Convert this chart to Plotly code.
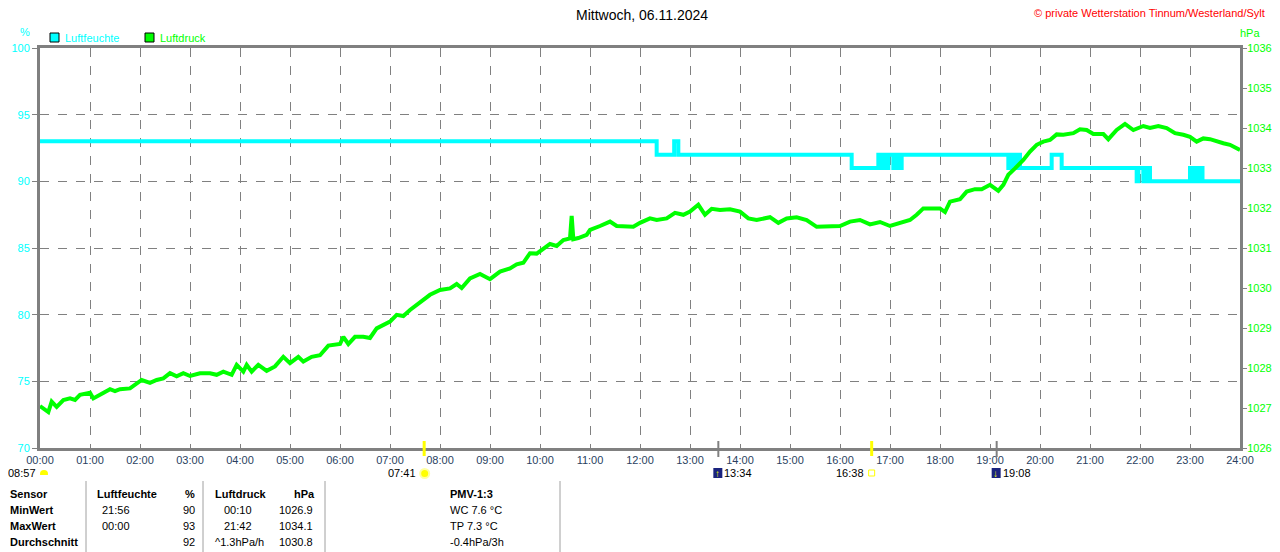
import plotly.graph_objects as go

# Seite hat 8px body-margin -> Figur um 8px kleiner, Positionen unten in Seitenpixeln
PAGE_OFF = 8
W, H = 1280 - PAGE_OFF, 552 - PAGE_OFF
ML, MR, MT, MB = 40 - PAGE_OFF, 40, 48 - PAGE_OFF, 104

CYAN = "#00FFFF"
GREEN = "#00FF00"
GRAY = "#808080"
FONT = "Liberation Sans"

HOUR_LABELS = [f"{h:02d}:00" for h in range(25)]

# Luftfeuchte in % (Stufenwerte ab Zeitpunkt)
HUM_TIMES = ["00:00", "12:20", "12:41", "12:46", "16:14", "16:46", "16:48", "16:52",
             "16:56", "16:58", "17:04", "17:06", "17:10", "17:14", "19:22", "19:25",
             "19:28", "19:32", "19:36", "19:42", "20:14", "20:26", "21:56", "21:58",
             "22:04", "22:08", "22:12", "22:18", "23:00", "23:03", "23:06", "23:09",
             "23:12", "23:15", "23:18", "24:00"]
HUM_VALUES = [93, 92, 93, 92, 91, 92, 91, 92,
              91, 92, 91, 92, 91, 92, 91, 92,
              91, 92, 91, 91, 92, 91, 90, 91,
              90, 91, 90, 90, 91, 90, 91, 90,
              91, 90, 90, 90]

# Luftdruck in hPa
PRES_TIMES = ["00:00", "00:04", "00:10", "00:14", "00:20", "00:28", "00:36", "00:42",
              "00:48", "01:00", "01:04", "01:12", "01:24", "01:30", "01:36", "01:48",
              "01:54", "02:02", "02:12", "02:20", "02:28", "02:36", "02:44", "02:52",
              "03:00", "03:12", "03:24", "03:32", "03:40", "03:50", "03:56", "04:04",
              "04:08", "04:14", "04:22", "04:32", "04:42", "04:52", "05:00", "05:10",
              "05:16", "05:26", "05:36", "05:46", "06:00", "06:04", "06:10", "06:18",
              "06:28", "06:36", "06:44", "06:52", "07:00", "07:08", "07:16", "07:24",
              "07:32", "07:42", "07:48", "08:00", "08:12", "08:20", "08:26", "08:36",
              "08:48", "09:00", "09:12", "09:24", "09:32", "09:40", "09:48", "09:56",
              "10:04", "10:12", "10:20", "10:28", "10:36", "10:38", "10:40", "10:46",
              "10:56", "11:00", "11:12", "11:24", "11:32", "11:44", "11:52", "12:00",
              "12:12", "12:20", "12:32", "12:42", "12:52", "13:00", "13:10", "13:18",
              "13:26", "13:36", "13:48", "14:00", "14:10", "14:20", "14:36", "14:46",
              "14:56", "15:08", "15:20", "15:32", "15:44", "16:00", "16:12", "16:24",
              "16:36", "16:48", "17:00", "17:12", "17:24", "17:32", "17:40", "17:48",
              "18:00", "18:06", "18:12", "18:24", "18:32", "18:42", "18:50", "19:00",
              "19:10", "19:16", "19:22", "19:30", "19:40", "19:48", "19:56", "20:04",
              "20:12", "20:20", "20:28", "20:40", "20:48", "20:56", "21:04", "21:16",
              "21:22", "21:32", "21:42", "21:52", "22:04", "22:12", "22:22", "22:32",
              "22:42", "22:52", "23:00", "23:08", "23:16", "23:24", "23:32", "23:40",
              "23:48", "23:58", "24:00"]
PRES_VALUES = [1027.05, 1027.0, 1026.9, 1027.16, 1027.03, 1027.2, 1027.24, 1027.2,
               1027.33, 1027.38, 1027.24, 1027.33, 1027.47, 1027.42, 1027.47, 1027.49,
               1027.58, 1027.7, 1027.63, 1027.7, 1027.74, 1027.87, 1027.79, 1027.87,
               1027.8, 1027.87, 1027.87, 1027.83, 1027.91, 1027.83, 1028.08, 1027.91,
               1028.08, 1027.91, 1028.08, 1027.93, 1028.04, 1028.28, 1028.12, 1028.28,
               1028.16, 1028.28, 1028.32, 1028.56, 1028.6, 1028.78, 1028.6, 1028.78,
               1028.78, 1028.75, 1028.99, 1029.08, 1029.16, 1029.33, 1029.3, 1029.45,
               1029.58, 1029.72, 1029.83, 1029.95, 1029.99, 1030.1, 1030.0, 1030.24,
               1030.35, 1030.22, 1030.41, 1030.49, 1030.59, 1030.63, 1030.87, 1030.86,
               1030.99, 1031.1, 1031.05, 1031.2, 1031.24, 1031.8, 1031.22, 1031.25,
               1031.33, 1031.45, 1031.55, 1031.66, 1031.55, 1031.55, 1031.53, 1031.63,
               1031.74, 1031.7, 1031.74, 1031.88, 1031.83, 1031.91, 1032.08, 1031.83,
               1031.98, 1031.95, 1031.97, 1031.91, 1031.74, 1031.7, 1031.77, 1031.63,
               1031.74, 1031.77, 1031.7, 1031.53, 1031.53, 1031.55, 1031.66, 1031.7,
               1031.59, 1031.65, 1031.55, 1031.63, 1031.7, 1031.83, 1031.99, 1031.99,
               1031.99, 1031.9, 1032.16, 1032.22, 1032.41, 1032.47, 1032.47, 1032.58,
               1032.43, 1032.58, 1032.83, 1032.99, 1033.2, 1033.41, 1033.58, 1033.66,
               1033.7, 1033.84, 1033.83, 1033.87, 1033.97, 1033.95, 1033.85, 1033.85,
               1033.72, 1033.95, 1034.1, 1033.95, 1034.05, 1034.0, 1034.05, 1034.0,
               1033.87, 1033.83, 1033.78, 1033.66, 1033.74, 1033.72, 1033.66, 1033.62,
               1033.58, 1033.49, 1033.45]

# Sonne / Mond Zeiten unter der Achse
SUN_EVENTS = ["07:41", "16:38"]
MOON_EVENTS = ["13:34", "19:08"]

TABLE_ROWS = [
    ["Sensor", "Luftfeuchte", "%", "Luftdruck", "hPa", "PMV-1:3"],
    ["MinWert", "21:56", "90", "00:10", "1026.9", "WC 7.6 °C"],
    ["MaxWert", "00:00", "93", "21:42", "1034.1", "TP 7.3 °C"],
    ["Durchschnitt", "", "92", "^1.3hPa/h", "1030.8", "-0.4hPa/3h"],
]


def to_h(t):
    hh, mm = t.split(":")
    return int(hh) + int(mm) / 60


# Seitenpixel -> paper-Koordinaten (Plotfläche auf der Seite: x 40..1240, y 48..448)
def px(x):
    return (x - 40) / 1200


def py(y):
    return (448 - y) / 400


fig = go.Figure()
fig.add_trace(go.Scatter(
    x=[to_h(t) for t in PRES_TIMES], y=PRES_VALUES, yaxis="y2",
    mode="lines", line=dict(color=GREEN, width=4),
    name="Luftdruck", hoverinfo="skip",
))
fig.add_trace(go.Scatter(
    x=[to_h(t) for t in HUM_TIMES], y=HUM_VALUES, yaxis="y",
    mode="lines", line=dict(color=CYAN, width=4, shape="hv"),
    name="Luftfeuchte", hoverinfo="skip",
))

annotations = []
shapes = []


def text(x, y, s, color="black", size=11, anchor="left", bold=False):
    annotations.append(dict(
        x=px(x), y=py(y), xref="paper", yref="paper", text=f"<b>{s}</b>" if bold else s,
        showarrow=False, xanchor=anchor, yanchor="middle",
        font=dict(family=FONT, size=size, color=color),
    ))


def rect(x0, y0, x1, y1, fill, line="black", lw=1):
    shapes.append(dict(type="rect", xref="paper", yref="paper",
                       x0=px(x0), x1=px(x1), y0=py(y0), y1=py(y1),
                       fillcolor=fill, line=dict(color=line, width=lw)))


def vline(x, y0, y1, color, width):
    shapes.append(dict(type="line", xref="paper", yref="paper",
                       x0=px(x), x1=px(x), y0=py(y0), y1=py(y1),
                       line=dict(color=color, width=width)))


# Kopfzeile
text(642, 15, "Mittwoch, 06.11.2024", size=14, anchor="center")
text(1267, 13, "© private Wetterstation Tinnum/Westerland/Sylt", color="#FF0000", anchor="right")
text(25, 32, "%", color=CYAN, anchor="center")
text(1250, 33, "hPa", color=GREEN, anchor="center")

# Legende
rect(50, 33, 59, 42, CYAN)
text(63, 38, "Luftfeuchte", color=CYAN)
rect(145, 33, 154, 42, GREEN)
text(158, 38, "Luftdruck", color=GREEN)

# Sonnenauf-/untergang, Mondauf-/untergang
x_ev = {t: 40 + to_h(t) * 50 for t in SUN_EVENTS + MOON_EVENTS}
for t in SUN_EVENTS:
    vline(x_ev[t], 441, 456, "#FFFF00", 3)
for t in MOON_EVENTS:
    vline(x_ev[t], 441, 457, GRAY, 2)

text(38, 473, "08:57", anchor="right")
shapes.append(dict(type="circle", xref="paper", yref="paper", x0=px(40), x1=px(48),
                   y0=py(470), y1=py(478), fillcolor="#FFFF00", line=dict(width=0)))
rect(39, 475, 49, 480, "white", line="white", lw=0)

t = SUN_EVENTS[0]
text(x_ev[t] - 6, 473, t, anchor="right")
shapes.append(dict(type="circle", xref="paper", yref="paper", x0=px(x_ev[t] - 4), x1=px(x_ev[t] + 5),
                   y0=py(469), y1=py(478), fillcolor="#FFFF00", line=dict(color="#FFFFA0", width=2)))

t = SUN_EVENTS[1]
text(x_ev[t] - 6, 473, t, anchor="right")
rect(x_ev[t] - 3, 470, x_ev[t] + 3, 476, "white", line="#FFFF00", lw=1)

for t, arrow in zip(MOON_EVENTS, ["↑", "↓"]):
    rect(x_ev[t] - 5, 468, x_ev[t] + 4, 478, "#1A237E", line="#1A237E", lw=0)
    text(x_ev[t] - 1, 473, arrow, color="#FFFF00", size=10, anchor="center", bold=True)
    text(x_ev[t] + 4, 473, t)

# Tabelle
for x in [86, 203, 325, 560, 1279]:
    vline(x, 481, 552, "#A0A0A0", 1)

row_y = [494, 510, 526, 542]
for i, row in enumerate(TABLE_ROWS):
    y = row_y[i]
    head = i == 0
    text(8, y, row[0], bold=True)
    text(95 if head else 100, y, row[1], bold=head)
    text(197, y, row[2], anchor="right", bold=head)
    text(213 if head or i == 3 else 222, y, row[3], bold=head)
    text(317 if head else 315, y, row[4], anchor="right", bold=head)
    text(448, y, row[5], bold=head)

axis_common = dict(
    showline=True, linecolor=GRAY, linewidth=3, zeroline=False, automargin=False,
    tickfont=dict(family=FONT, size=11),
)

fig.update_layout(
    width=W, height=H,
    margin=dict(l=ML, r=MR, t=MT, b=MB),
    paper_bgcolor="white", plot_bgcolor="white",
    showlegend=False,
    xaxis=dict(
        range=[0, 24], tickvals=list(range(25)), ticktext=HOUR_LABELS,
        showgrid=True, gridcolor=GRAY, griddash="dash", gridwidth=1,
        mirror=True, ticks="", **axis_common,
    ),
    yaxis=dict(
        range=[70, 100], dtick=5, tickcolor=GRAY, ticks="outside", ticklen=5,
        showgrid=True, gridcolor=GRAY, griddash="dash", gridwidth=1,
        **{**axis_common, "tickfont": dict(family=FONT, size=11, color=CYAN)},
    ),
    yaxis2=dict(
        range=[1026, 1036], dtick=1, overlaying="y", side="right",
        tickcolor=GRAY, ticks="outside", ticklen=4, showgrid=False,
        ticklabelstandoff=-2,
        **{**axis_common, "tickfont": dict(family=FONT, size=11, color=GREEN)},
    ),
    annotations=annotations,
    shapes=shapes,
)

fig.write_html("out.html")
